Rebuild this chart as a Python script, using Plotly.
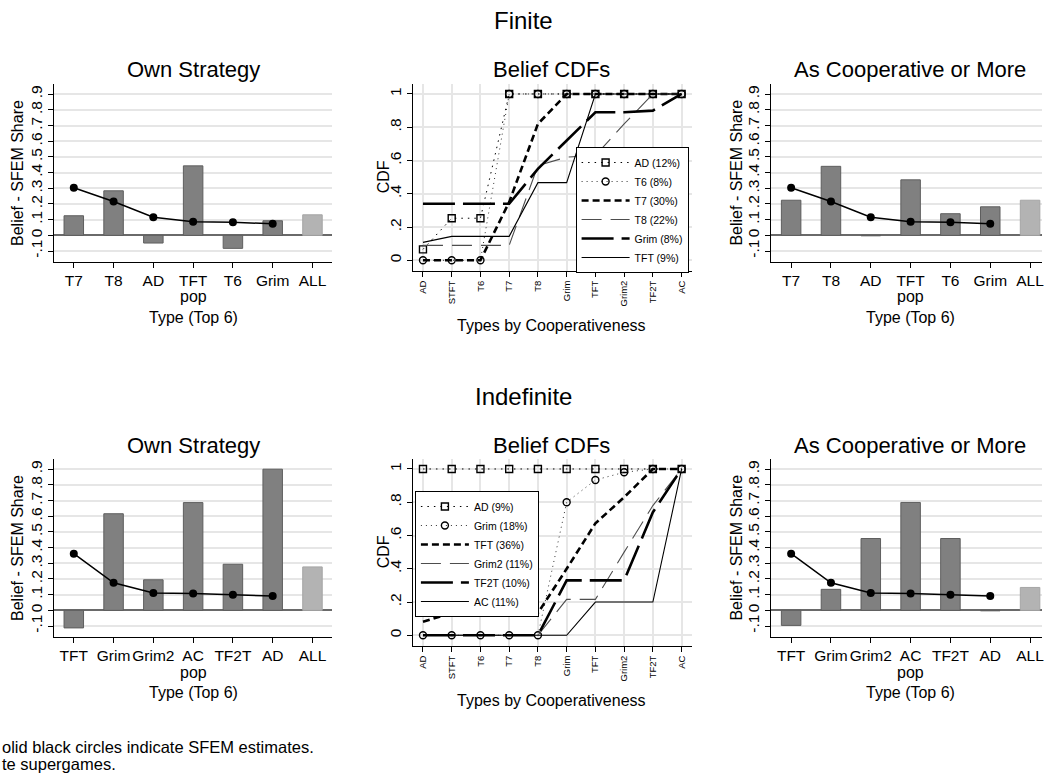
import plotly.graph_objects as go

W, H = 1044, 779
FONT = "Liberation Sans"

# ---- data -------------------------------------------------------------
fin_types = ["T7", "T8", "AD", "TFT", "T6", "Grim", "ALL"]
fin_own = [0.125, 0.284, -0.049, 0.443, -0.083, 0.093, 0.131]
fin_coop = [0.224, 0.440, -0.003, 0.354, 0.138, 0.182, 0.224]
fin_sfem = [0.303, 0.216, 0.116, 0.087, 0.083, 0.074]

ind_types = ["TFT", "Grim", "Grim2", "AC", "TF2T", "AD", "ALL"]
ind_own = [-0.112, 0.616, 0.195, 0.687, 0.294, 0.900, 0.277]
ind_coop = [-0.096, 0.134, 0.458, 0.688, 0.458, -0.003, 0.146]
ind_sfem = [0.361, 0.176, 0.110, 0.107, 0.099, 0.092]

coop_order = ["AD", "STFT", "T6", "T7", "T8", "Grim", "TFT", "Grim2", "TF2T", "AC"]

fin_cdf_names = ["AD (12%)", "T6 (8%)", "T7 (30%)", "T8 (22%)", "Grim (8%)", "TFT (9%)"]
fin_cdf = [
    [0.066, 0.253, 0.253, 1, 1, 1, 1, 1, 1, 1],
    [0, 0, 0, 1, 1, 1, 1, 1, 1, 1],
    [0, 0, 0, 0.35, 0.82, 1, 1, 1, 1, 1],
    [0.09, 0.09, 0.09, 0.09, 0.57, 0.62, 0.63, 0.82, 1, 1],
    [0.34, 0.34, 0.34, 0.34, 0.55, 0.72, 0.89, 0.89, 0.90, 1],
    [0.108, 0.144, 0.144, 0.144, 0.467, 0.467, 1, 1, 1, 1],
]

ind_cdf_names = ["AD (9%)", "Grim (18%)", "TFT (36%)", "Grim2 (11%)", "TF2T (10%)", "AC (11%)"]
ind_cdf = [
    [1, 1, 1, 1, 1, 1, 1, 1, 1, 1],
    [0, 0, 0, 0, 0, 0.80, 0.934, 0.98, 1, 1],
    [0.082, 0.134, 0.134, 0.134, 0.134, 0.40, 0.673, 0.83, 1, 1],
    [0, 0, 0, 0, 0, 0.216, 0.216, 0.50, 0.78, 1],
    [0, 0, 0, 0, 0, 0.33, 0.33, 0.33, 0.74, 1],
    [0, 0, 0, 0, 0, 0, 0.20, 0.20, 0.20, 1],
]

bar_ticks = [-0.1, 0, 0.1, 0.2, 0.3, 0.4, 0.5, 0.6, 0.7, 0.8, 0.9]
bar_ticktext = ["-.1", "0", ".1", ".2", ".3", ".4", ".5", ".6", ".7", ".8", ".9"]
cdf_ticks = [0, 0.2, 0.4, 0.6, 0.8, 1]
cdf_ticktext = ["0", ".2", ".4", ".6", ".8", "1"]

# line styles for the six CDF series (same order in both rows)
cdf_styles = [
    dict(line=dict(color="black", width=1, dash="1.5px,5px"),
         marker=dict(symbol="square-open", size=7, color="black", line=dict(width=1.4)), mode="lines+markers"),
    dict(line=dict(color="#333333", width=1, dash="1px,4px"),
         marker=dict(symbol="circle-open", size=7, color="black", line=dict(width=1.4)), mode="lines+markers"),
    dict(line=dict(color="black", width=2.6, dash="7px,4px"), mode="lines"),
    dict(line=dict(color="#4d4d4d", width=1.1, dash="20px,9px"), mode="lines"),
    dict(line=dict(color="black", width=2.6, dash="32px,8px"), mode="lines"),
    dict(line=dict(color="black", width=1.1), mode="lines"),
]


def px(x):
    return x / W


def py(y):
    return 1 - y / H


# ---- panel geometry (pixels) -----------------------------------------
rows = {"top": (84, 261.7, 270.7), "bot": (459, 636.7, 645.7)}
cols = {"left": (54, 333), "mid": (413.7, 693), "right": (772.7, 1052)}

fig = go.Figure()
layout = dict(
    width=W, height=H, margin=dict(l=0, r=0, t=0, b=0),
    paper_bgcolor="white", plot_bgcolor="white",
    font=dict(family=FONT, color="black"),
    showlegend=True,
)

axis_common = dict(showline=True, linecolor="black", linewidth=1.2, ticks="outside",
                   ticklen=5, tickcolor="black", tickwidth=1.1)


def bar_panel(n, row, col, types, vals, sfem):
    top, bottom, _ = rows[row]
    left, right = cols[col]
    xr = [-0.5, 6.5]
    dom_r = right
    if right > W:
        # panel runs off the right-hand edge of the page
        xr = [-0.5, -0.5 + 7 * (W - left) / (right - left)]
        dom_r = W
    colors = ["#808080"] * 6 + ["#b3b3b3"]
    lines = ["#5e5e5e"] * 6 + ["#a5a5a5"]
    fig.add_trace(go.Bar(x=types, y=vals, width=0.49,
                         marker=dict(color=colors, line=dict(color=lines, width=1)),
                         xaxis=f"x{n}", yaxis=f"y{n}", showlegend=False))
    fig.add_trace(go.Scatter(x=types[:6], y=sfem, mode="lines+markers",
                             line=dict(color="black", width=1.5),
                             marker=dict(color="black", size=8),
                             xaxis=f"x{n}", yaxis=f"y{n}", showlegend=False))
    layout[f"xaxis{n}"] = dict(axis_common, domain=[px(left), px(dom_r)], anchor=f"y{n}",
                               type="category", categoryorder="array", categoryarray=types,
                               range=xr, showgrid=False, zeroline=False,
                               tickangle=0, tickfont=dict(size=15.5))
    layout[f"yaxis{n}"] = dict(axis_common, domain=[py(bottom), py(top)], anchor=f"x{n}",
                               range=[-0.168, 0.965], tickvals=bar_ticks, ticktext=bar_ticktext,
                               tickangle=-90, tickfont=dict(size=15.5),
                               showgrid=True, gridcolor="#e6e6e6", gridwidth=1.5,
                               zeroline=True, zerolinecolor="#6a6a6a", zerolinewidth=1.5)


def cdf_panel(n, row, names, series, legend_name, legend_pos):
    top, _, bottom = rows[row]
    left, right = cols["mid"]
    for name, vals, st in zip(names, series, cdf_styles):
        fig.add_trace(go.Scatter(x=coop_order, y=vals, name=name, legend=legend_name,
                                 xaxis=f"x{n}", yaxis=f"y{n}", **st))
    layout[f"xaxis{n}"] = dict(axis_common, domain=[px(left), px(right)], anchor=f"y{n}",
                               type="category", categoryorder="array", categoryarray=coop_order,
                               range=[-0.35, 9.35], tickangle=-90, tickfont=dict(size=9.5),
                               showgrid=True, gridcolor="#e6e6e6", gridwidth=1.5, zeroline=False)
    layout[f"yaxis{n}"] = dict(axis_common, domain=[py(bottom), py(top)], anchor=f"x{n}",
                               range=[-0.0625, 1.06], tickvals=cdf_ticks, ticktext=cdf_ticktext,
                               tickangle=-90, tickfont=dict(size=15.5),
                               showgrid=True, gridcolor="#e6e6e6", gridwidth=1.5, zeroline=False)
    layout[legend_name] = dict(x=px(legend_pos[0]), y=py(legend_pos[1]), xanchor="left", yanchor="top",
                               bgcolor="white", bordercolor="black", borderwidth=1,
                               font=dict(size=10.5, family=FONT), itemwidth=48, tracegroupgap=0)


bar_panel(1, "top", "left", fin_types, fin_own, fin_sfem)
cdf_panel(2, "top", fin_cdf_names, fin_cdf, "legend", (576.7, 147))
bar_panel(3, "top", "right", fin_types, fin_coop, fin_sfem)
bar_panel(4, "bot", "left", ind_types, ind_own, ind_sfem)
cdf_panel(5, "bot", ind_cdf_names, ind_cdf, "legend2", (415.7, 491))
bar_panel(6, "bot", "right", ind_types, ind_coop, ind_sfem)

# ---- text ---------------------------------------------------------------
ann = []


def text(s, x, y, size, angle=0, anchor="center"):
    ann.append(dict(text=s, x=px(x), y=py(y), xref="paper", yref="paper", showarrow=False,
                    xanchor=anchor, yanchor="middle", textangle=angle,
                    font=dict(size=size, family=FONT, color="black")))


for dy, head in ((0, "Finite"), (375, "Indefinite")):
    text(head, 525, 21 + dy, 24)
    text("Own Strategy", 193.5, 70 + dy, 22)
    text("Belief CDFs", 553, 70 + dy, 22)
    text("As Cooperative or More", 912, 70 + dy, 22)
    text("Belief - SFEM Share", 17, 173 + dy, 16, angle=-90)
    text("Belief - SFEM Share", 737, 173 + dy, 16, angle=-90)
    text("CDF", 384, 177 + dy, 16, angle=-90)
    for cx in (193.5, 912):
        text("pop", cx, 297 + dy, 16)
        text("Type (Top 6)", cx, 317 + dy, 16)
    text("Types by Cooperativeness", 553, 325 + dy, 16)

text("olid black circles indicate SFEM estimates.", 0, 747, 16.5, anchor="left")
text("te supergames.", 0, 764, 16.5, anchor="left")

layout["annotations"] = ann
fig.update_layout(**layout)
fig.write_html("out.html")
